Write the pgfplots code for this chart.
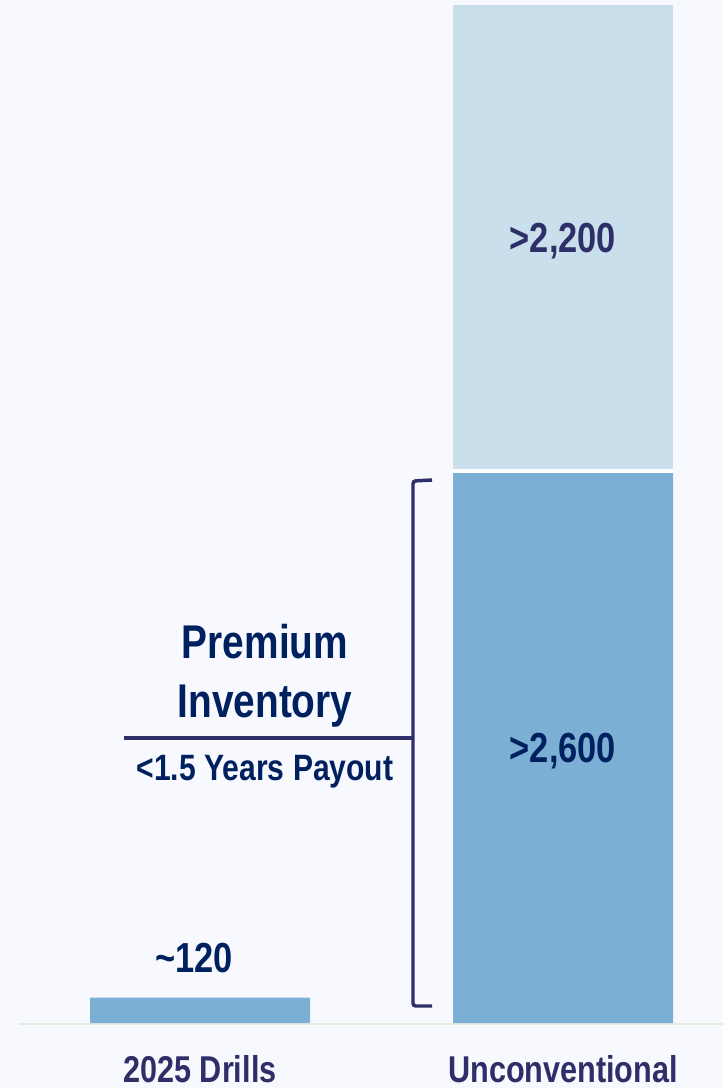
\documentclass[border=0pt]{standalone}
\usepackage{fontspec}
\setmainfont{Liberation Sans}[FakeStretch=0.82]
\usepackage{pgfplots}
\pgfplotsset{compat=1.18}
\definecolor{bgcol}{HTML}{F7F9FE}
\definecolor{barmid}{HTML}{7BAFD4}
\definecolor{barlight}{HTML}{C9DFEC}
\definecolor{navy}{HTML}{00215F}
\definecolor{slate}{HTML}{2E2F68}
\definecolor{basecol}{HTML}{E4ECE2}

\begin{document}
\begin{tikzpicture}
% canvas in pixel units (1px = 0.75pt), y downwards
\begin{scope}[x=0.75pt,y=-0.75pt]
\fill[bgcol] (0,0) rectangle (723,1088);
\useasboundingbox (0,0) rectangle (723,1088);
\draw[basecol, line width=1.5pt] (18,1024) -- (723,1024);
\end{scope}

\begin{axis}[
    at={(13.5pt,-767.25pt)}, anchor=south west,
    scale only axis,
    width=528.75pt, height=763.5pt,
    xmin=18, xmax=723,
    ymin=0, ymax=4800,
    ybar stacked,
    bar width=220,
    axis line style={draw=none},
    tick style={draw=none},
    ytick=\empty,
    xtick={200,563},
    xticklabels={2025 Drills,Unconventional},
    xticklabel style={anchor=base, yshift=-44.25pt,
        font=\fontsize{28}{30}\selectfont\bfseries, text=slate},
    clip=false,
]
% stacking goes by index: Unconventional first
\addplot[fill=barmid, draw=none] coordinates {(563,2600) (200,120)};
\addplot[fill=barlight, draw=none] coordinates {(563,2200)};
\end{axis}

\begin{scope}[x=0.75pt,y=-0.75pt]
% gap between the two segments
\draw[white, line width=3.5pt] (453,471) -- (673,471);
\node[anchor=base, text=slate, font=\fontsize{31.5}{34}\selectfont\bfseries]
    at (563,252) {>2,200};
\node[anchor=base, text=navy, font=\fontsize{31.5}{34}\selectfont\bfseries]
    at (563,762) {>2,600};
\node[anchor=base, text=navy, font=\fontsize{31.5}{34}\selectfont\bfseries]
    at (194,972) {\textasciitilde 120};
\draw[slate, line width=2.6pt, rounded corners=2pt]
    (432,480) -- (413,481) -- (413,1006) -- (432,1006);
\draw[slate, line width=2.6pt] (124,738) -- (413,738);
\node[anchor=base, text=navy, font=\fontsize{35.5}{38}\selectfont\bfseries]
    at (265,658) {Premium};
\node[anchor=base, text=navy, font=\fontsize{35.5}{38}\selectfont\bfseries]
    at (265,717) {Inventory};
\node[anchor=base, text=navy, font=\fontsize{27.5}{30}\selectfont\bfseries]
    at (265,780) {<1.5 Years Payout};
\end{scope}
\end{tikzpicture}
\end{document}
